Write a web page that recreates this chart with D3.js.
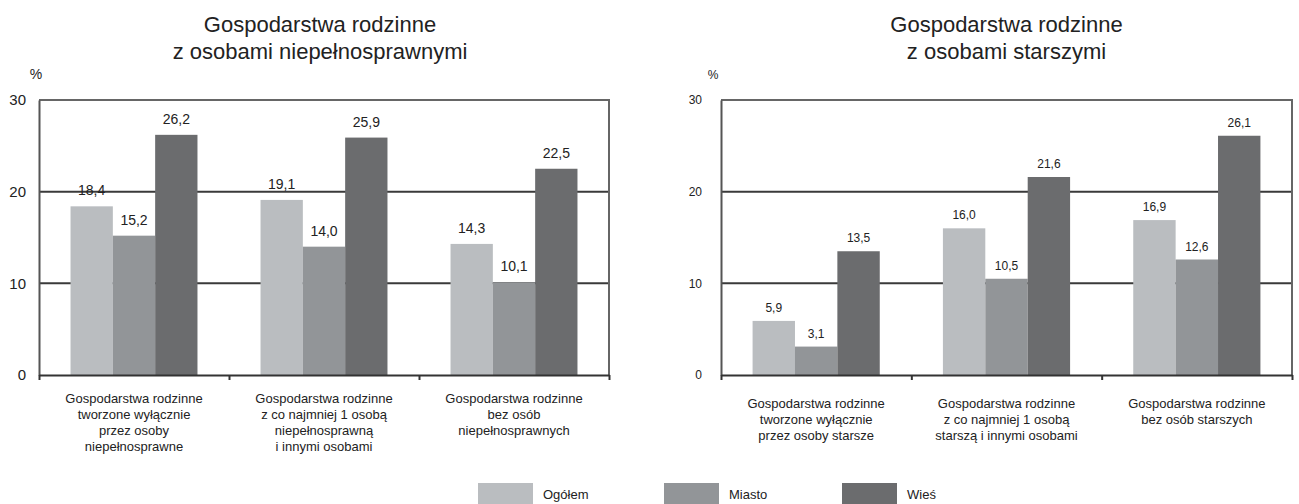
<!DOCTYPE html>
<html><head><meta charset="utf-8">
<script src="https://cdn.jsdelivr.net/npm/d3@7"></script>
<style>
body{margin:0;background:#fff;}
svg{display:block;font-family:"Liberation Sans",Arial,sans-serif;}
</style></head>
<body><svg id="c" width="1299" height="504"></svg>
<script>
const series = ["Ogółem", "Miasto", "Wieś"];
const colors = ["#babdc0", "#929598", "#6b6c6e"];
const yTicks = [0, 10, 20, 30];

const leftTitle = ["Gospodarstwa rodzinne", "z osobami niepełnosprawnymi"];
const leftCategories = [
  ["Gospodarstwa rodzinne", "tworzone wyłącznie", "przez osoby", "niepełnosprawne"],
  ["Gospodarstwa rodzinne", "z co najmniej 1 osobą", "niepełnosprawną", "i innymi osobami"],
  ["Gospodarstwa rodzinne", "bez osób", "niepełnosprawnych"]
];
const leftOgolem = [18.4, 19.1, 14.3];
const leftMiasto = [15.2, 14.0, 10.1];
const leftWies = [26.2, 25.9, 22.5];

const rightTitle = ["Gospodarstwa rodzinne", "z osobami starszymi"];
const rightCategories = [
  ["Gospodarstwa rodzinne", "tworzone wyłącznie", "przez osoby starsze"],
  ["Gospodarstwa rodzinne", "z co najmniej 1 osobą", "starszą i innymi osobami"],
  ["Gospodarstwa rodzinne", "bez osób starszych"]
];
const rightOgolem = [5.9, 16.0, 16.9];
const rightMiasto = [3.1, 10.5, 12.6];
const rightWies = [13.5, 21.6, 26.1];

const svg = d3.select("#c");
const fmt = v => d3.format(".1f")(v).replace(".", ",");

function panel(opt) {
  const {x0, x1, y0, y1, title, cats, vals, tickFont, valFont, tickGap, pctX, pctFont} = opt;
  const g = svg.append("g");
  const x = d3.scaleBand().domain(d3.range(cats.length)).range([x0, x1]).padding(0);
  const xs = d3.scaleBand().domain(d3.range(series.length)).range([0, x.bandwidth()]).paddingInner(0).paddingOuter(0.745);
  const y = d3.scaleLinear().domain([0, 30]).range([y0, y1]);
  const cx = (x0 + x1) / 2 + opt.titleShift;

  // title
  g.append("text").attr("x", cx).attr("y", 32).attr("text-anchor", "middle")
    .attr("font-size", 22).attr("fill", "#222")
    .selectAll("tspan").data(title).join("tspan")
    .attr("x", cx).attr("dy", (d, i) => i ? 27 : 0).text(d => d);

  // percent
  g.append("text").attr("x", pctX).attr("y", 79).attr("text-anchor", "middle")
    .attr("font-size", pctFont).attr("fill", "#222").text("%");

  // grid
  g.selectAll("line.grid").data(yTicks.filter(t => t > 0 && t < 30)).join("line")
    .attr("x1", x0).attr("x2", x1).attr("y1", d => y(d)).attr("y2", d => y(d))
    .attr("stroke", "#3a3a3a").attr("stroke-width", 2);

  // bars
  const data = [];
  cats.forEach((c, i) => series.forEach((s, j) => data.push({i, j, v: vals[j][i]})));
  g.selectAll("rect.bar").data(data).join("rect")
    .attr("x", d => x(d.i) + xs(d.j)).attr("width", xs.bandwidth())
    .attr("y", d => y(d.v)).attr("height", d => y(0) - y(d.v))
    .attr("fill", d => colors[d.j]);

  // value labels
  g.selectAll("text.val").data(data).join("text")
    .attr("x", d => x(d.i) + xs(d.j) + xs.bandwidth() / 2)
    .attr("y", d => y(d.v) - tickGap)
    .attr("text-anchor", "middle").attr("font-size", valFont).attr("fill", "#222")
    .text(d => fmt(d.v));

  // frame (top & right)
  g.append("path").attr("d", `M${x0},${y1}H${x1}V${y0}`)
    .attr("fill", "none").attr("stroke", "#666").attr("stroke-width", 2);

  // y axis
  const ya = d3.axisLeft(y).tickValues(yTicks).tickSize(0).tickPadding(opt.yPad).tickFormat(d3.format("d"));
  const yg = g.append("g").attr("transform", `translate(${x0},0)`).call(ya);
  yg.select(".domain").attr("stroke", "#555").attr("stroke-width", 2);
  yg.selectAll("text").attr("font-size", tickFont).attr("fill", "#222").attr("font-family", null);

  // x axis
  const xa = d3.axisBottom(d3.scaleLinear().domain([0, cats.length]).range([x0, x1]))
    .tickValues(d3.range(cats.length + 1)).tickSize(5).tickSizeOuter(0).tickFormat("");
  const xg = g.append("g").attr("transform", `translate(0,${y0})`).call(xa);
  xg.select(".domain").attr("stroke", "#333").attr("stroke-width", 2);
  xg.selectAll(".tick line").attr("stroke", "#333").attr("stroke-width", 2);

  // category labels
  cats.forEach((lines, i) => {
    const tx = x(i) + x.bandwidth() / 2;
    g.append("text").attr("x", tx).attr("y", opt.catY).attr("text-anchor", "middle")
      .attr("font-size", 13).attr("fill", "#222")
      .selectAll("tspan").data(lines).join("tspan")
      .attr("x", tx).attr("dy", (d, k) => k ? 16 : 0).text(d => d);
  });
}

panel({x0: 39, x1: 609, y0: 375, y1: 100, title: leftTitle, cats: leftCategories,
  vals: [leftOgolem, leftMiasto, leftWies], tickFont: 15, valFont: 14, tickGap: 11,
  pctX: 36, pctFont: 14, yPad: 13, catY: 403, titleShift: -4});
panel({x0: 721, x1: 1292, y0: 375, y1: 100, title: rightTitle, cats: rightCategories,
  vals: [rightOgolem, rightMiasto, rightWies], tickFont: 12, valFont: 12, tickGap: 9,
  pctX: 713, pctFont: 12, yPad: 19, catY: 408, titleShift: 0});

// legend
const legendX = [478, 664, 842];
const lg = svg.append("g");
lg.selectAll("rect").data(series).join("rect")
  .attr("x", (d, i) => legendX[i]).attr("y", 483).attr("width", 55).attr("height", 21)
  .attr("fill", (d, i) => colors[i]);
lg.selectAll("text").data(series).join("text")
  .attr("x", (d, i) => legendX[i] + 65).attr("y", 499)
  .attr("font-size", 13).attr("fill", "#222").text(d => d);
</script></body></html>
